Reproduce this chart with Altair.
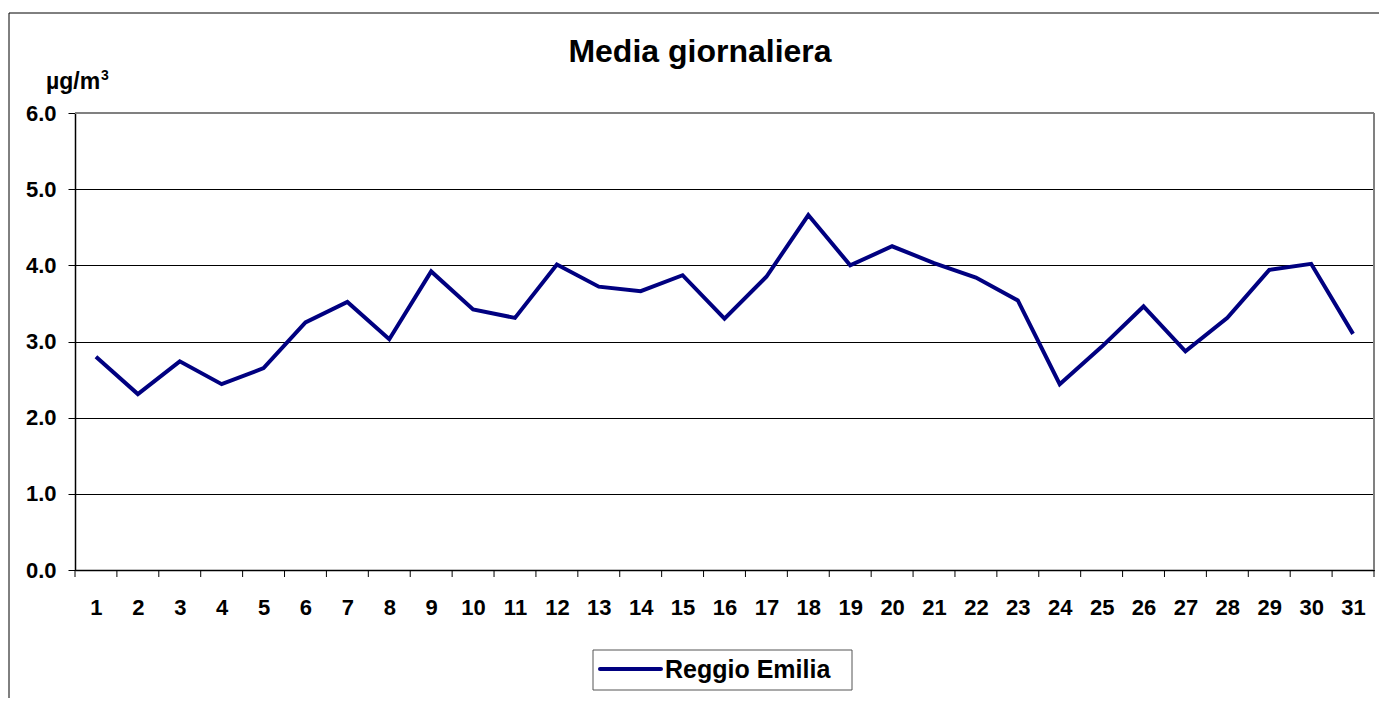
import altair as alt
import pandas as pd

# ---- data ----
days = list(range(1, 32))
values = [2.80, 2.31, 2.74, 2.44, 2.65, 3.25, 3.52, 3.03, 3.92, 3.42,
          3.31, 4.01, 3.72, 3.66, 3.87, 3.30, 3.85, 4.66, 4.00, 4.25,
          4.03, 3.84, 3.54, 2.44, 2.93, 3.46, 2.87, 3.31, 3.94, 4.02, 3.10]
series_name = "Reggio Emilia"
y_ticks = [0, 1, 2, 3, 4, 5, 6]
tick_bounds = [d - 0.5 for d in days] + [31.5]
title_text = "Media giornaliera"
unit_text = "µg/m"
unit_sup = "3"

W, H = 1299, 457
FONT = "Liberation Sans"
NAVY = "#000080"

df = pd.DataFrame({"day": days, "value": values, "series": [series_name] * len(days)})
ticks_df = pd.DataFrame({"pos": tick_bounds})
one = pd.DataFrame({"a": [0]})

xscale = alt.Scale(domain=[0.5, 31.5], nice=False, zero=False)
yscale = alt.Scale(domain=[0, 6], nice=False, zero=True)

x_axis = alt.Axis(values=days, format="d", title=None, grid=False,
                  ticks=False, tickSize=0, labelPadding=27,
                  labelFontSize=22, labelFont=FONT, labelFontWeight="bold",
                  labelColor="black", domainColor="black", domainWidth=1.5,
                  labelFlush=False, labelOverlap=False, labelBound=False)

line = alt.Chart(df).mark_line(strokeWidth=4, strokeJoin="miter", color=NAVY).encode(
    x=alt.X("day:Q", scale=xscale, axis=x_axis),
    y=alt.Y("value:Q", scale=yscale,
            axis=alt.Axis(values=y_ticks, format=".1f", title=None, grid=True,
                          gridColor={"condition": {"test": "datum.value == 6", "value": "#808080"},
                                     "value": "#000000"},
                          gridWidth=1, tickSize=7, tickColor="black", labelPadding=12,
                          labelFontSize=22, labelFont=FONT, labelFontWeight="bold",
                          labelColor="black", domainColor="black", domainWidth=1.5,
                          labelOverlap=False, labelFlush=False)),
)

xticks = alt.Chart(ticks_df).mark_rule(color="black", strokeWidth=1).encode(
    x=alt.X("pos:Q", scale=xscale, axis=x_axis),
    y=alt.value(H), y2=alt.value(H + 7),
)

# plot-area border (top & right, gray)
top_border = alt.Chart(one).mark_rule(color="#808080", strokeWidth=2).encode(
    x=alt.value(0), x2=alt.value(W), y=alt.value(0))
right_border = alt.Chart(one).mark_rule(color="#808080", strokeWidth=2).encode(
    x=alt.value(W), y=alt.value(0), y2=alt.value(H))

# outer chart frame (left & top visible)
outer_left = alt.Chart(one).mark_rule(color="black", strokeWidth=1).encode(
    x=alt.value(-66), y=alt.value(-100), y2=alt.value(H + 128))
outer_top = alt.Chart(one).mark_rule(color="black", strokeWidth=1).encode(
    x=alt.value(-66), x2=alt.value(W + 5), y=alt.value(-100))

title = alt.Chart(one).mark_text(text=title_text, font=FONT, fontSize=32, fontWeight="bold",
                                 align="center", baseline="alphabetic", color="black").encode(
    x=alt.value(625), y=alt.value(-51))
unit = alt.Chart(one).mark_text(text=unit_text, font=FONT, fontSize=23, fontWeight="bold",
                                align="left", baseline="alphabetic", color="black").encode(
    x=alt.value(-29), y=alt.value(-24))
unit3 = alt.Chart(one).mark_text(text=unit_sup, font=FONT, fontSize=14, fontWeight="bold",
                                 align="left", baseline="alphabetic", color="black").encode(
    x=alt.value(26), y=alt.value(-33))

# legend (box, line sample, label)
leg_box = alt.Chart(one).mark_rect(fill="white", stroke="#555555", strokeWidth=1).encode(
    x=alt.value(518), x2=alt.value(777), y=alt.value(537), y2=alt.value(577))
leg_line = alt.Chart(one).mark_rule(color=NAVY, strokeWidth=4, strokeCap="round").encode(
    x=alt.value(525), x2=alt.value(586), y=alt.value(556))
leg_text = alt.Chart(one).mark_text(text=series_name, font=FONT, fontSize=25, fontWeight="bold",
                                    align="left", baseline="alphabetic", color="black").encode(
    x=alt.value(590), y=alt.value(565))

chart = alt.layer(outer_left, outer_top, top_border, right_border, xticks, line,
                  title, unit, unit3, leg_box, leg_line, leg_text).properties(
    width=W, height=H,
    padding={"left": 0, "top": 4, "right": 0, "bottom": 0},
).configure_view(strokeWidth=0).configure(background="white")

chart.save("out.html", embed_options={"renderer": "svg", "actions": False})
